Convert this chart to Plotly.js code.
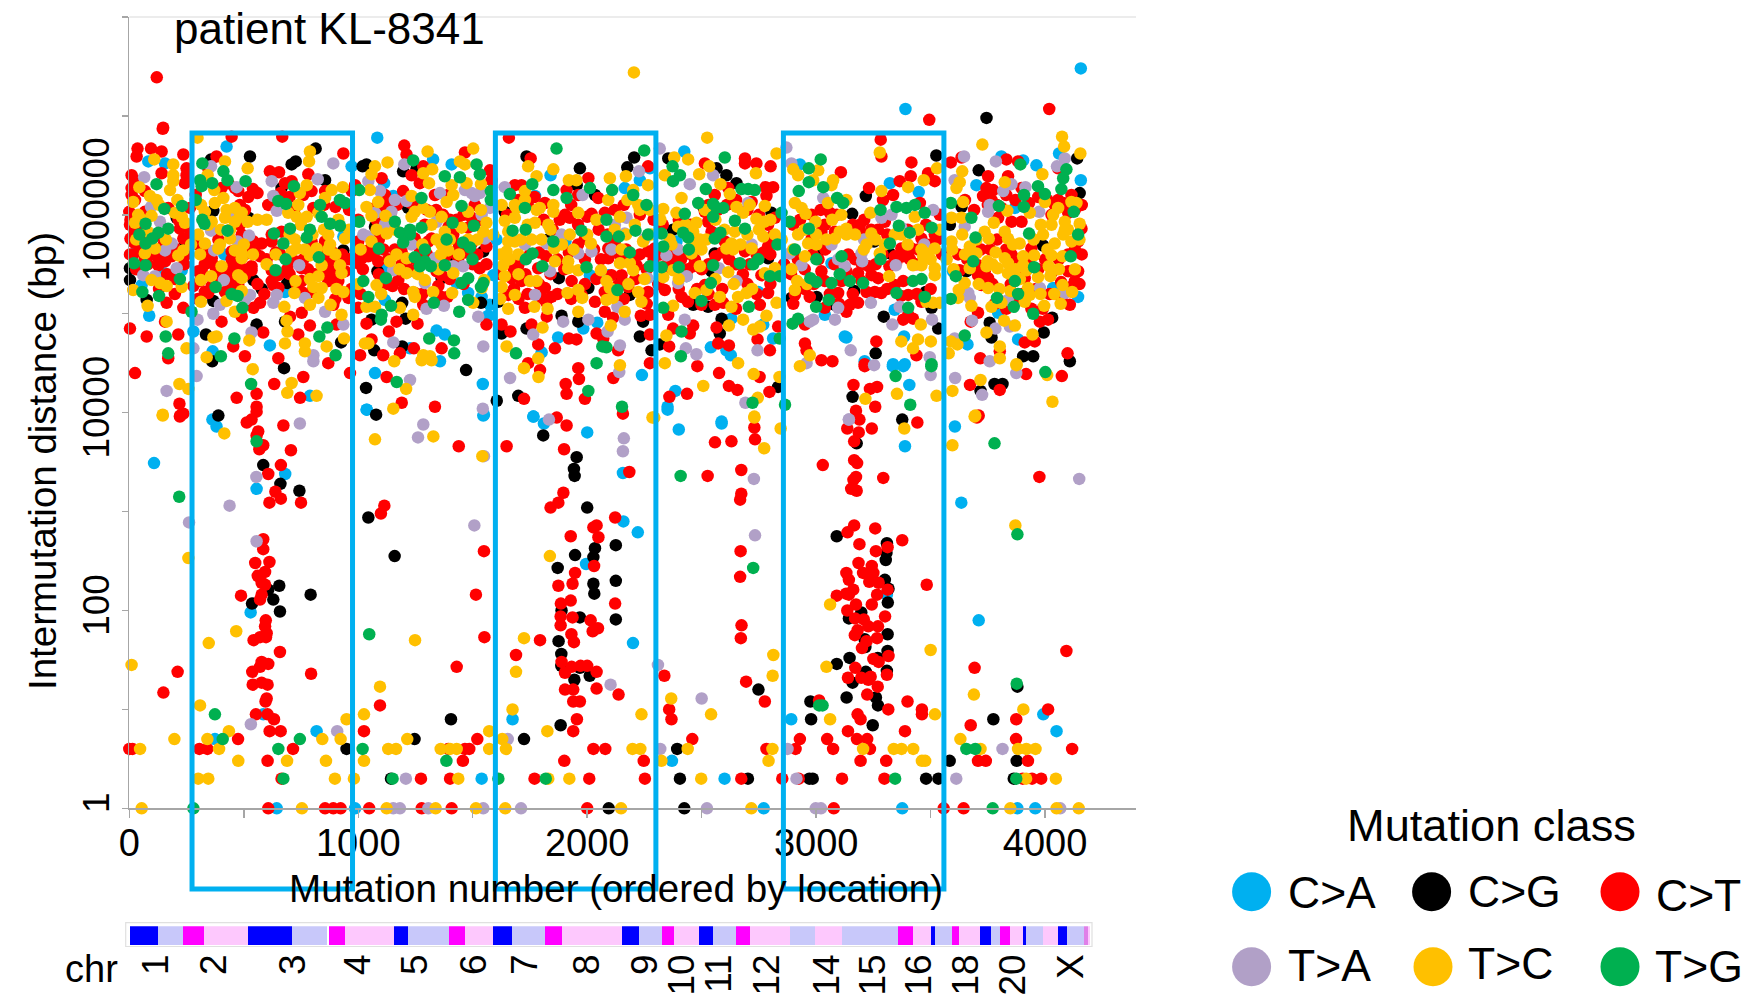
<!DOCTYPE html>
<html><head><meta charset="utf-8">
<script src="https://cdn.plot.ly/plotly-3.0.0.min.js"></script>
<style>html,body{margin:0;padding:0;background:#fff}#c{width:1750px;height:997px}</style></head>
<body><div id="c"></div>
<script>
// Each list: mutation number, log10(intermutation distance in bp), repeated.
const caPts=[425,6.69,83,6.54,156,6.52,153,5.41,54,5.29,87,4.98,36,5.66,415,5.60,614,4.68,680,5.22,364,4.62,280,4.82,745,5.51,971,6.49,935,5.78,229,5.44,724,5.24,
1083,6.78,1327,6.56,1408,6.51,1113,6.32,1153,6.19,1840,6.40,1772,6.19,1342,4.83,1378,4.79,1357,4.52,1226,4.65,1116,5.14,1429,5.31,1480,5.21,1539,5.17,1575,5.09,1568,4.98,1873,4.76,1905,5.73,1983,4.85,2044,4.91,1801,4.61,1590,5.39,1604,5.75,1116,5.46,2012,5.39,
2424,6.64,2230,6.35,2164,6.27,2274,6.47,2929,6.51,3125,4.77,2747,5.22,2769,4.89,2812,4.75,2540,4.66,2627,4.58,2608,4.63,3038,4.99,3067,5.51,2434,5.38,2390,5.73,2092,5.39,2630,4.95,
3962,6.50,3809,6.59,3904,6.55,4061,6.62,3448,6.23,3322,6.32,4156,6.35,3795,5.01,4035,5.26,3598,5.43,4144,5.17,3132,4.76,3384,4.77,3343,5.04,3212,4.52,3336,4.49,3387,4.49,3882,4.74,3661,4.69,3700,6.30,3868,6.07,
4156,7.48,3390,7.07,
1073,4.40,1544,4.29,1037,4.03,1546,3.97,789,4.17,1765,3.96,2351,4.06,2385,4.22,3407,4.28,2587,3.91,2239,4.38,3335,4.47,3381,4.47,
108,3.49,363,3.93,381,3.86,556,3.23,681,3.38,1037,4.03,1549,3.98,1765,3.96,1811,3.89,2000,3.80,1995,2.47,530,1.98,585,.95,818,.78,1674,.90,374,.70,1539,.30,644,0,986,0,
2156,3.39,2158,2.90,2221,2.79,2200,1.67,2370,.48,2400,3.83,2587,3.89,2351,4.03,3388,3.66,3606,3.86,3634,3.09,3710,1.90,2891,.90,3309,2.16,3992,.95,4050,.78,2600,.30,2771,0,3376,0,3879,0,3957,0];
const cgPts=[527,6.59,814,6.67,709,6.51,727,6.54,855,6.35,1019,6.49,357,6.56,665,6.27,10,5.75,3,5.46,3,5.34,578,5.25,542,5.34,690,5.31,335,4.79,680,4.92,925,4.71,898,5.43,935,5.64,520,5.97,367,6.04,243,5.73,556,4.89,367,5.13,76,5.14,362,4.52,207,5.97,
1036,6.51,1196,6.44,1735,6.59,1968,6.47,1954,6.30,2034,6.20,1830,5.75,1084,5.43,1247,5.43,1876,5.36,2005,5.26,1192,5.11,1058,4.94,1207,4.95,1192,4.67,1070,4.63,1536,5.11,1611,5.12,1735,4.85,1626,4.80,1888,4.98,1961,4.92,1546,5.63,1364,5.36,1422,5.58,1218,6.07,1073,5.88,1640,6.03,1255,6.47,
2205,6.58,2175,6.48,2354,6.57,2608,6.40,2565,6.47,2652,6.32,2230,4.77,2244,4.92,2281,4.63,2317,4.69,2587,4.95,2579,4.80,2463,5.09,2528,5.07,2805,6.02,2790,5.56,2375,5.85,2543,5.43,2557,5.61,3023,5.65,2507,6.08,3002,5.17,2892,5.16,3082,5.09,2186,5.19,2150,5.33,
3710,6.45,3217,6.19,3157,6.01,3525,6.60,4140,6.57,4151,6.22,3253,5.73,3322,5.61,3991,5.69,3166,5.23,3479,5.22,3295,4.97,3533,4.85,3758,4.91,4031,4.96,3994,4.81,3766,4.76,3904,4.57,3948,4.57,4108,4.52,3260,4.60,3635,6.08,3584,5.90,3656,5.43,3504,5.06,
3744,6.98,
389,3.97,1034,4.25,1078,3.98,1605,4.12,1699,4.17,676,4.45,1471,4.43,2834,4.26,3159,4.16,3779,4.29,3814,4.29,3718,4.22,
1808,3.77,585,3.47,660,3.28,743,3.21,1954,3.55,1942,3.43,1945,3.36,2000,3.04,1044,2.94,1159,2.55,655,2.25,607,2.21,792,2.16,629,2.11,536,2.07,658,1.99,1871,2.43,1947,2.56,2034,2.63,2027,2.54,2027,2.27,2031,2.17,1888,2.00,1968,1.93,1875,1.69,1887,1.56,1887,1.44,1968,1.42,2011,1.34,1944,1.30,1884,.84,1405,.90,1246,.70,1724,.70,949,.60,1143,.30,
2094,0,2424,0,2125,2.66,2125,2.30,2125,1.91,2748,1.20,2393,.60,2405,.30,2702,.30,2970,.30,2985,.30,2975,1.08,2978,.90,3090,2.75,3309,2.68,3307,2.58,3304,2.51,3300,2.31,3316,2.22,3313,2.08,3197,1.98,3143,1.92,3312,1.76,3212,1.71,3215,1.63,3312,1.59,3146,1.52,3090,1.46,3269,1.52,3217,1.38,3309,1.39,3159,1.27,3133,1.12,3261,1.12,3270,1.04,3247,.84,3376,3.93,3177,3.69,3480,.30,3534,.30,3879,1.23,3774,.90,3583,.48,3876,.48,3863,.30];
const ctPts=[148,6.88,36,6.67,32,6.59,95,6.67,141,6.64,236,6.61,447,6.79,668,6.79,935,6.62,381,6.59,614,6.44,654,6.43,10,6.40,25,6.35,141,6.42,250,6.47,250,6.40,345,6.47,10,6.27,68,6.24,243,6.32,432,6.32,680,6.32,855,6.24,782,6.41,607,6.10,483,6.10,25,6.15,3,5.90,25,5.83,68,6.03,5,5.76,578,5.71,622,5.73,542,5.73,571,5.58,447,5.55,418,5.46,461,5.43,534,5.48,622,5.44,651,5.39,629,5.29,338,5.61,316,5.43,330,5.22,491,4.97,542,5.06,571,5.11,403,4.92,585,4.81,738,4.79,789,4.88,702,4.97,753,5.01,3,4.85,76,4.77,214,4.79,163,5.11,199,5.20,236,5.06,454,4.67,651,4.55,505,4.57,869,4.50,1008,4.58,156,4.92,170,4.55,905,4.89,913,5.33,869,5.33,898,5.49,942,5.43,1000,5.51,
127,5.56,156,5.53,105,5.60,185,5.58,3,5.60,265,5.80,236,5.76,360,5.56,352,5.63,461,5.49,491,5.46,505,5.39,447,5.36,476,5.29,534,5.44,301,5.43,309,5.33,345,5.21,418,5.22,447,5.63,389,5.75,491,5.80,483,5.90,476,6.24,461,6.27,403,6.27,709,6.34,796,6.24,804,6.07,971,6.24,986,6.30,884,5.63,913,5.49,855,5.43,884,5.39,753,5.46,724,5.53,796,5.73,622,5.80,665,5.83,855,5.73,1000,5.73,1015,5.56,957,5.16,1000,5.06,891,5.09,753,5.33,622,5.33,651,5.26,753,5.22,796,5.22,10,6.20,0,6.03,170,6.07,39,5.97,221,5.86,265,6.07,127,5.49,68,5.56,17,5.60,
1201,6.70,1211,6.61,1466,6.63,1658,6.78,1753,6.57,1284,6.49,1233,6.40,1102,6.37,1269,6.32,1575,6.45,1910,6.25,2005,6.37,1196,6.24,1335,6.20,1393,6.20,1815,6.12,1924,5.97,2019,6.01,2077,6.02,1903,6.00,1116,6.20,1509,6.10,1684,6.30,1713,6.30,1073,6.07,1131,6.10,1480,5.87,1495,5.71,1291,5.90,1247,5.76,1320,5.76,1058,5.75,1044,5.58,1087,5.53,1073,5.63,1204,5.56,1284,5.63,1342,5.43,1364,5.39,1175,5.34,1531,5.46,1560,5.68,1437,5.56,1699,5.49,1670,5.36,1713,5.33,1655,5.19,1786,5.46,1844,5.17,1815,5.26,1801,5.16,1932,5.33,1990,5.76,2034,5.12,2077,5.22,2077,5.02,1975,5.19,1728,5.06,1823,4.97,1757,4.89,1786,4.69,1859,4.65,1920,4.75,1953,4.74,2041,4.80,2070,4.75,1665,4.82,1626,4.89,1560,4.89,1364,4.65,1243,4.65,1182,4.60,1109,4.58,1134,4.82,1167,4.92,1259,4.90,1036,4.90,1058,4.74,1364,5.17,1284,5.09,1247,5.21,1390,5.17,1742,4.50,1582,6.35,2048,6.17,1961,6.20,1393,5.87,1495,5.97,1415,5.80,1189,5.63,1306,5.73,
2689,6.57,2689,6.52,2739,6.52,2801,6.49,2514,6.52,2779,6.28,2812,6.28,3108,6.43,2266,6.49,2718,6.13,2616,6.27,2557,6.20,2783,6.19,2820,5.97,2790,5.90,2528,5.93,2543,5.83,2601,5.73,3038,5.90,3060,6.02,3082,5.83,3023,5.83,2980,5.76,2092,5.66,2092,5.56,2157,5.53,2215,5.49,2266,5.63,2295,5.66,2354,5.63,2106,5.39,2150,5.39,2266,5.22,2179,5.27,2339,5.24,2412,5.17,2368,5.46,2463,5.48,2514,5.29,2499,5.09,2557,5.09,2594,5.11,2790,5.21,2754,5.09,2761,5.39,2790,5.68,2805,5.78,2689,5.63,2113,4.96,2234,4.98,2274,4.99,2274,4.79,2354,4.99,2358,4.67,2375,4.85,2463,4.88,2448,4.80,2565,4.86,2572,4.70,2619,4.68,2744,4.74,2798,4.63,2834,4.87,2951,4.70,2958,4.63,2972,5.17,3038,5.06,2907,5.19,3096,5.21,3111,5.33,3023,5.43,3038,5.33,2951,4.89,3023,4.53,3071,4.52,2135,4.63,2274,4.50,2514,6.03,2135,5.29,2441,5.61,
3282,6.76,3285,6.59,3416,6.53,3588,6.53,3635,6.58,3831,6.56,3882,6.54,3231,6.27,3413,6.39,3489,6.42,3365,6.34,3518,6.34,3751,6.39,3838,6.39,4057,6.47,3744,6.27,3773,6.25,3729,6.19,3766,6.15,3292,6.15,3336,6.20,3453,6.12,3897,6.27,4115,6.20,4057,6.15,4042,6.10,4101,6.02,4028,6.00,3809,6.07,3191,5.90,3191,5.83,3300,5.93,3853,5.93,3897,5.93,3795,5.97,4144,5.73,4159,5.86,3940,5.66,3853,5.60,3372,5.66,3416,5.66,3460,5.76,3518,5.80,3343,5.58,3402,5.60,3445,5.65,3707,5.49,3736,5.43,3707,5.39,3751,5.36,3722,5.29,3132,5.43,3183,5.41,3242,5.39,3271,5.36,3285,5.21,3256,5.22,3402,5.19,3380,5.33,3343,5.29,3183,5.11,3132,5.02,3147,5.09,3380,4.94,3423,4.95,3402,4.99,3263,4.72,3707,5.01,3675,4.92,3911,4.71,3955,4.72,4013,4.94,3977,4.92,4108,5.09,4130,5.33,4101,5.43,4144,5.43,3809,5.12,3882,5.16,3911,5.36,4071,5.16,3897,5.56,3717,4.55,3802,4.62,4098,4.60,3438,4.58,3212,4.49,3460,5.12,3627,5.44,3198,5.33,
120,7.39,146,6.87,3494,6.96,4018,7.07,
25,4.40,219,4.09,469,4.15,633,4.29,760,4.36,746,4.15,556,4.19,556,4.06,222,3.97,1124,4.36,1190,4.10,1335,4.06,1724,4.14,1961,4.45,1964,4.34,1906,4.29,1910,4.19,1990,4.14,1794,4.43,964,4.40,
2114,4.35,2359,4.16,2436,4.19,2619,4.27,2656,4.23,2576,4.40,2481,4.47,2796,4.21,2753,4.36,3163,4.28,3235,4.24,3266,4.26,3258,4.06,3174,4.02,3672,4.28,3802,4.23,3917,4.39,4073,4.37,3212,4.47,3702,3.95,
221,3.96,236,3.99,513,3.90,534,3.93,556,4.01,673,3.87,563,3.81,556,3.77,585,3.67,568,3.63,706,3.62,662,3.47,607,3.38,638,3.20,662,3.13,612,3.09,750,3.09,1114,3.06,1099,2.98,1549,2.60,1514,2.16,488,2.15,585,2.72,585,2.62,612,2.49,550,2.48,593,2.39,561,2.35,578,2.28,593,2.26,578,2.16,571,2.11,596,1.90,593,1.84,600,1.77,571,1.73,597,1.73,543,1.70,658,1.58,607,1.46,578,1.48,571,1.43,537,1.38,211,1.38,794,1.36,539,1.25,578,1.27,604,1.25,600,1.11,595,1.08,149,1.17,553,.95,604,.95,632,.90,613,.78,661,.78,1095,1.04,1430,1.43,1551,1.73,1025,.78,1520,.70,1439,3.66,1648,3.66,1867,3.95,1910,3.87,1899,3.63,1896,3.19,1874,3.09,1840,3.04,1928,2.75,2027,2.84,2041,2.86,2049,2.74,1947,2.38,2030,2.45,1874,2.25,1936,2.27,1885,2.07,1928,2.10,1884,1.94,1884,1.85,1936,1.93,2015,1.90,1931,1.76,2024,1.79,1942,1.68,2047,1.82,1794,1.70,1689,1.55,1888,1.48,1932,1.43,1971,1.44,2000,1.44,1903,1.37,2041,1.38,1903,1.20,1939,1.20,1939,1.08,1968,1.08,1955,.90,1939,.78,2041,1.21,
0,.60,14,.60,306,.60,341,.60,715,.60,1393,.60,1466,.60,1485,.60,2027,.60,475,.70,604,.48,1457,.48,1900,.48,665,.30,1274,.30,1401,.30,1770,.30,2009,.30,607,0,855,0,891,0,923,0,1048,0,1277,0,1408,0,2000,0,
2156,3.99,2730,3.85,2733,3.73,2558,3.70,2630,3.71,2184,3.40,2526,3.36,2673,3.42,2673,3.18,2668,3.12,2122,2.94,2670,2.60,2668,2.34,2122,2.07,2674,1.85,2671,1.72,2337,1.34,2694,1.28,2137,1.15,2358,1.00,2368,.90,2776,1.08,2459,.70,2079,.60,2783,.60,2247,.48,2252,.30,2673,.30,2852,.30,2924,.30,3113,.30,3298,.30,3077,0,3557,0,3644,0,
3189,3.93,3136,3.84,3186,3.80,3243,3.84,3166,3.71,3179,3.49,3166,3.52,3029,3.47,3163,3.32,3174,3.35,3293,3.34,3153,3.23,3177,3.21,3166,2.86,3137,2.79,3258,2.83,3189,2.67,3376,2.71,3312,2.64,3261,2.60,3185,2.48,3243,2.45,3205,2.38,3132,2.38,3250,2.38,3143,2.31,3232,2.29,3273,2.28,3162,2.21,3131,2.17,3090,2.15,3143,2.16,3266,2.16,3312,2.21,3243,2.06,3174,2.06,3136,2.00,3170,1.92,3208,1.91,3228,1.84,3270,1.84,3301,1.94,3181,1.80,3169,1.75,3220,1.69,3266,1.72,3200,1.62,3316,1.54,3250,1.51,3273,1.48,3171,1.42,3139,1.32,3197,1.32,3228,1.30,3238,1.33,3309,1.35,3269,1.23,3223,1.15,3399,1.08,3315,1.00,3013,1.09,3181,.95,3194,.90,3462,1.00,3462,.95,3139,.78,3388,.78,3178,.70,3223,.70,3048,.70,2929,.70,2910,.60,3074,.60,3235,.60,3194,.48,3306,.48,3483,2.26,
3975,3.35,4093,1.59,3692,1.42,3675,.84,3874,.90,4013,1.00,3873,.70,4118,.60,3925,.48,3707,.48,3741,.48,3902,.30,3943,.30,3983,.30,3710,3.97,3442,3.90];
// Red and orange marks read from the densest part of the cloud, partly seen under the other classes
const ctCore=[60,5.95,20,5.72,45,5.68,75,5.63,120,5.62,150,5.70,200,5.66,215,5.95,250,5.88,290,6.20,300,5.70,330,5.50,375,5.48,400,5.40,430,5.42,470,5.50,505,5.60,520,5.68,550,5.62,600,5.55,640,5.62,660,5.60,690,5.45,700,5.40,730,5.30,760,5.55,780,5.45,810,5.40,830,5.62,850,5.55,880,5.50,905,5.30,930,5.60,960,5.55,990,5.62,1020,5.45,505,6.05,520,6.18,540,6.26,560,6.22,660,6.22,700,6.18,720,6.05,760,6.20,850,6.10,900,6.08,960,6.05,1000,5.95,560,5.30,590,5.20,440,5.30,380,5.35,360,5.28,280,5.28,250,5.60,165,5.40,200,5.35,240,5.50,110,5.78,60,5.80,35,5.90,5,5.95,80,5.50,30,5.45,130,5.25,300,5.15,900,5.15,970,5.25,1010,5.20,
1050,5.65,1090,5.75,1110,5.65,1130,5.55,1160,5.65,1190,5.50,1220,5.45,1250,5.55,1270,5.65,1300,5.60,1330,5.55,1360,5.48,1380,5.58,1410,5.62,1440,5.70,1470,5.62,1500,5.50,1520,5.60,1560,5.50,1080,5.95,1110,6.05,1140,6.00,1170,6.10,1230,6.12,1260,6.10,1300,6.05,1340,6.05,1370,6.00,1400,5.95,1430,5.95,1460,6.00,1530,5.95,1090,5.40,1120,5.30,1150,5.28,1200,5.25,1280,5.20,1350,5.28,1400,5.35,1460,5.30,1620,5.40,1650,5.55,1680,5.45,1710,5.55,1730,5.40,1750,5.60,1790,5.62,1820,5.58,1840,5.40,1870,5.55,1900,5.45,1920,5.62,1960,5.70,1990,5.55,2030,5.65,2060,5.55,1680,5.25,1700,5.15,1740,5.20,1790,5.30,1820,5.12,1870,5.20,1930,5.15,1990,5.30,2040,5.35,1650,6.00,1700,6.15,1740,6.10,1770,6.18,1810,5.95,1850,5.85,1880,5.95,1930,6.10,1960,5.90,2000,5.98,2050,5.85,
2090,5.80,2120,5.72,2140,5.60,2170,5.65,2200,5.55,2230,5.60,2260,5.45,2290,5.55,2320,5.60,2350,5.50,2380,5.55,2410,5.55,2440,5.45,2470,5.55,2500,5.45,2530,5.50,2560,5.58,2590,5.62,2620,5.55,2650,5.50,2680,5.40,2710,5.50,2740,5.60,2770,5.62,2800,5.60,2120,6.05,2160,6.10,2230,6.00,2290,5.95,2330,5.90,2400,5.95,2450,5.90,2530,6.10,2570,6.05,2610,6.10,2650,6.15,2700,6.05,2750,6.00,2100,5.20,2160,5.15,2210,5.35,2260,5.10,2310,5.30,2400,5.25,2440,5.12,2480,5.25,2530,5.20,2590,5.25,2650,5.05,2700,5.30,2740,5.20,2800,5.30,2860,5.50,2890,5.40,2920,5.55,2950,5.45,2985,5.60,3010,5.55,3040,5.65,3080,5.50,3110,5.45,2900,5.90,2930,5.95,2980,6.00,3020,6.05,3090,6.00,2900,5.10,2950,5.25,2990,5.30,3060,5.20,3100,5.10,
3140,5.60,3170,5.55,3200,5.50,3230,5.48,3260,5.50,3290,5.60,3320,5.48,3350,5.52,3380,5.58,3410,5.55,3440,5.50,3470,5.65,3500,5.70,3530,5.75,3550,5.60,3160,5.90,3210,5.95,3240,5.85,3270,5.85,3310,5.80,3400,5.85,3480,5.90,3540,6.00,3160,5.20,3220,5.22,3310,5.25,3370,5.18,3440,5.20,3500,5.25,3620,5.60,3660,5.55,3690,5.60,3720,5.65,3760,5.65,3790,5.75,3830,5.65,3870,5.55,3900,5.40,3930,5.55,3970,5.45,4000,5.55,4030,5.42,4060,5.55,4100,5.60,4130,5.65,4160,5.60,3650,6.15,3690,6.05,3750,6.10,3790,6.10,3830,6.20,3870,6.15,3930,6.12,3970,6.18,4010,6.15,4080,6.12,4130,6.05,4160,6.10,3730,5.35,3770,5.30,3850,5.30,3900,5.20,3960,5.25,4020,5.20,4070,5.32,4120,5.28,4150,5.30,3780,5.10,3830,5.05,3940,5.05,3990,5.05];
const tcCore=[30,5.75,55,5.95,130,6.10,160,5.75,210,6.15,270,5.70,345,5.90,400,5.85,440,5.85,500,5.70,540,5.60,600,5.50,640,5.60,700,5.80,750,5.90,800,5.80,850,5.85,900,5.60,960,5.85,1010,5.65,1000,5.30,560,5.95,600,5.95,
1080,5.85,1160,5.85,1200,5.80,1280,5.70,1320,5.90,1400,5.75,1440,5.60,1480,5.75,1520,5.75,1590,5.80,1620,5.60,1660,5.55,1710,5.75,1740,5.90,1800,5.75,1840,5.85,1890,5.70,1940,5.65,2000,5.80,2040,5.95,1100,5.20,1180,5.45,1260,5.40,1350,5.45,1620,5.15,1700,5.40,
2120,5.85,2170,5.80,2280,5.80,2320,5.95,2430,5.90,2460,5.70,2520,5.75,2560,5.95,2600,5.85,2670,5.70,2700,5.80,2750,5.85,2800,5.95,2850,5.75,2900,5.65,2950,5.85,3000,5.80,3070,5.95,3110,6.00,2180,5.30,2250,5.35,2400,5.35,2560,5.35,2640,5.30,2720,5.25,2960,5.30,
3170,5.80,3220,5.70,3260,5.75,3300,5.70,3400,5.70,3460,5.65,3500,5.55,3540,5.85,3570,5.55,3600,5.45,3650,5.60,3700,5.75,3770,5.50,3860,5.70,3870,5.45,3950,5.75,4010,5.65,4060,5.45,4100,5.85,4150,5.75,3710,5.30,3800,5.25,3890,5.35,3980,5.20,4040,5.20,4130,5.45];
const taPts=[891,6.52,357,6.49,65,6.38,622,6.34,823,6.36,469,6.28,644,6.04,629,6.19,95,6.08,134,5.93,444,6.00,357,5.84,523,5.79,473,5.73,185,5.71,156,5.64,371,5.64,207,5.46,112,5.38,61,5.39,413,5.34,742,5.49,527,5.19,505,5.14,396,5.09,367,5.00,644,5.19,629,5.11,767,5.16,855,5.02,935,4.89,534,4.81,298,4.94,804,4.58,804,4.52,280,4.65,1022,5.80,
1201,6.51,1044,6.34,1466,6.25,1495,6.22,1531,6.22,1509,6.19,1357,6.22,1095,6.24,1160,6.15,1211,6.14,1145,6.03,1073,6.02,1116,5.90,1539,6.00,1575,6.07,1342,5.93,1044,5.78,1233,5.70,1335,5.56,1553,5.76,1153,5.44,1458,5.48,1415,5.48,1291,5.31,1772,5.19,1728,5.70,1888,5.80,1895,4.92,1980,6.20,2019,5.63,1961,5.61,1837,5.43,2005,4.94,1764,4.79,1298,5.05,1374,5.08,1524,4.97,1546,4.67,1153,4.71,1823,5.71,1640,6.28,
2317,6.67,2226,6.44,2870,6.68,2892,6.52,2448,6.31,2550,6.40,2346,5.59,2652,5.33,2575,5.46,2434,5.38,2397,5.31,2703,6.12,2172,5.97,2164,5.81,2121,5.90,2106,5.65,2263,5.36,2252,5.76,2397,5.65,2426,4.94,2164,4.94,2132,5.07,2972,4.92,2987,4.94,3082,4.94,3096,5.06,2143,4.68,2431,4.65,2477,4.59,2744,4.63,3031,6.17,3067,5.70,2885,5.61,2936,5.49,2718,5.70,2089,4.82,2958,4.50,3096,5.55,
3646,6.59,3785,6.54,4086,6.57,4052,6.49,3605,6.35,3914,6.28,3853,6.31,3817,6.24,3511,6.05,3285,5.97,3329,6.00,3758,6.10,3751,6.03,3974,6.03,3649,5.88,3372,5.87,3209,5.75,3472,5.70,3198,5.61,3201,5.53,3348,5.49,3125,5.48,3664,5.21,3671,5.16,3977,5.26,3838,5.14,3239,5.11,3365,5.07,3333,4.89,3506,4.94,3681,4.93,3783,4.85,3846,4.87,3151,4.63,3496,4.56,3605,4.75,3758,4.52,3253,4.48,4086,5.21,
163,4.22,1226,4.33,1544,4.04,1663,4.35,294,4.37,3500,4.38,3607,4.35,3725,4.18,3874,4.40,2691,4.10,2140,4.41,3143,3.93,
745,3.89,1284,3.88,1261,3.75,1549,3.56,555,3.35,438,3.06,261,2.89,556,2.70,1507,2.86,1833,3.93,531,.85,908,.78,1653,.70,1208,.30,1153,0,1182,0,1306,0,1546,0,1711,0,
2160,3.74,2156,3.61,2728,3.33,2733,2.76,3143,3.93,4149,3.33,2102,1.25,2500,1.11,2309,1.45,2319,.60,2875,.60,3814,.60,2914,.30,3612,.30,2523,0,2998,0,3021,0,4066,0];
const tcPts=[109,6.56,192,6.51,418,6.54,517,6.47,789,6.64,785,6.54,298,6.78,342,6.40,192,6.40,192,6.34,44,6.28,178,6.25,371,6.25,775,6.30,745,6.22,932,6.28,884,6.25,855,6.17,738,6.10,17,6.13,90,6.19,119,6.15,411,6.17,313,6.10,374,6.12,425,6.05,461,6.07,491,6.02,39,6.00,97,5.99,199,6.02,229,5.98,243,5.92,25,5.92,80,5.83,330,6.03,360,5.93,418,5.97,461,5.93,517,5.93,483,5.98,694,6.02,731,5.98,775,5.98,826,6.02,913,5.95,869,5.80,877,5.70,942,5.76,724,5.75,731,5.66,767,5.65,818,5.66,869,5.65,709,5.63,301,5.80,330,5.71,440,5.76,396,5.70,389,5.66,461,5.64,491,5.61,491,5.56,309,5.60,68,5.61,112,5.66,236,5.64,214,5.59,789,5.59,840,5.49,920,5.49,927,5.41,403,5.48,357,5.38,313,5.34,476,5.39,491,5.36,726,5.33,789,5.35,826,5.38,804,5.27,840,5.26,905,5.25,935,5.22,97,5.34,134,5.31,163,5.28,229,5.27,17,5.24,721,5.21,826,5.16,789,5.09,879,5.09,927,4.99,80,5.08,313,5.12,425,5.13,491,5.23,461,5.02,677,5.07,687,4.93,691,4.82,163,4.92,381,4.77,367,4.76,524,4.73,680,4.70,767,4.70,862,4.67,938,4.75,767,4.62,338,4.56,250,4.65,1029,4.70,
1128,6.53,1073,6.49,1058,6.41,1303,6.64,1502,6.67,1444,6.54,1466,6.51,1284,6.42,1323,6.46,1309,6.32,1473,6.32,1536,6.31,1408,6.30,1051,6.25,1233,6.19,1415,6.20,1087,6.13,1386,6.13,1284,6.07,1313,6.03,1364,5.98,1480,6.03,1536,6.05,1233,5.98,1036,6.08,1058,5.99,1119,5.99,1451,5.87,1378,5.83,1342,5.75,1560,5.92,1546,5.83,1124,5.81,1058,5.73,1742,6.49,1852,6.46,1779,6.39,1920,6.35,1953,6.35,1626,6.10,1728,6.24,1728,6.15,1684,6.10,1691,6.07,1779,6.05,1852,6.10,1852,6.03,1793,6.07,1961,6.02,1640,5.94,1684,5.97,1772,5.92,1830,5.90,1655,5.83,1655,5.73,1757,5.75,1684,5.73,1924,5.80,2016,5.71,1648,5.63,1699,5.60,1856,5.66,1633,5.49,1859,5.53,1917,5.53,1917,5.46,1961,5.44,2060,5.44,1640,5.38,1626,5.27,1750,5.33,1779,5.33,1684,5.19,1769,5.07,1655,5.05,1827,5.05,1914,5.21,1961,5.24,1978,5.16,1961,5.02,1805,4.86,1648,4.67,1786,4.55,1138,5.53,1167,5.60,1211,5.56,1361,5.60,1393,5.64,1415,5.41,1291,5.34,1211,5.41,1080,5.29,1327,5.22,1410,5.21,1240,5.22,1247,5.17,1036,5.07,1073,5.07,1182,5.06,1240,4.99,1502,5.11,1364,5.70,1247,6.03,1044,4.70,1277,4.53,1320,4.53,1284,4.58,1313,4.57,1157,4.52,1550,5.34,1539,5.26,
2524,6.78,2827,6.62,2380,6.58,2441,6.56,2533,6.49,2339,6.40,2489,6.41,2737,6.42,2169,6.39,2099,6.37,2582,6.31,2266,6.30,2201,6.25,2623,6.21,2412,6.17,2092,6.15,2176,6.15,2223,6.10,2332,6.06,2390,6.02,2776,6.09,2652,6.08,2710,6.10,2143,5.98,2230,6.05,2274,6.05,2514,6.05,2681,6.02,2739,5.96,2773,5.93,2397,5.88,2477,5.92,2463,5.83,2492,5.75,2499,5.65,2456,5.61,2645,5.83,2630,5.71,2637,5.65,2608,5.66,2718,5.66,2769,5.78,2820,5.80,2208,5.90,2244,5.73,2361,5.75,2368,5.70,2150,5.65,2143,5.51,2186,5.51,2201,5.44,2084,5.33,2099,5.26,2084,5.14,2113,5.16,2223,5.22,2237,5.12,2164,5.02,2103,4.88,2375,5.08,2332,5.37,2375,5.44,2492,5.48,2616,5.42,2521,5.24,2579,5.17,2470,5.21,2696,5.21,2659,5.17,2630,5.07,2776,5.41,2820,5.46,2827,5.11,2783,4.98,2681,4.94,2754,4.87,2725,4.84,2619,4.88,2346,4.78,2143,4.48,2659,4.50,2339,4.50,2900,6.46,2921,6.40,3009,6.45,2987,6.35,3074,6.35,3067,6.30,2907,6.12,2936,6.07,2954,6.01,2997,5.93,2921,5.80,2965,5.71,3001,5.70,3045,5.75,3082,5.76,3103,5.83,2951,5.58,2892,5.45,2917,5.33,2907,5.24,2972,4.58,3052,6.12,
3726,6.71,4074,6.79,4083,6.69,4154,6.62,3278,6.63,3638,6.44,3988,6.41,3627,6.33,3613,6.27,3824,6.33,3470,6.35,3528,6.47,3402,6.28,3285,6.24,3642,6.13,3999,6.13,4115,6.13,4137,6.12,4057,6.07,4035,6.00,3835,6.04,3933,6.02,3591,5.97,3635,5.97,3237,6.02,3431,5.98,3776,5.92,3824,5.83,3838,5.76,3981,5.90,4028,5.90,3991,5.80,4086,5.93,4086,5.85,4079,5.80,4151,5.91,3736,5.83,3754,5.76,3638,5.80,3241,5.81,3343,5.80,3372,5.80,3445,5.85,3591,5.73,3594,5.65,3671,5.68,3700,5.61,3784,5.62,3889,5.71,3904,5.58,3952,5.59,4042,5.71,4028,5.59,4115,5.73,4076,5.58,3208,5.65,3278,5.61,3132,5.80,3132,5.86,3518,5.66,3482,5.61,3467,5.58,3423,5.49,3460,5.49,3518,5.46,3518,5.39,3319,5.38,3671,5.46,3748,5.53,3744,5.48,3792,5.46,3824,5.56,3838,5.51,3838,5.41,3904,5.49,3919,5.44,4016,5.48,4023,5.38,3969,5.37,3926,5.26,3933,5.19,3911,5.12,3751,5.26,3849,5.23,3623,5.24,3620,5.16,3649,5.31,3678,5.08,3766,5.07,3809,5.11,3996,5.08,4068,5.10,4076,5.29,4118,5.22,3482,5.12,3511,5.11,3540,5.11,3457,4.89,3821,4.93,3868,4.88,3744,4.81,3945,4.79,3445,4.74,3501,4.72,3588,4.72,3617,4.69,3372,4.72,3423,4.65,3802,4.67,3802,4.55,3579,4.60,3875,4.49,3132,6.15,
2204,7.44,
219,4.29,146,3.97,258,4.24,709,4.30,690,4.20,818,4.17,1153,4.04,1209,4.24,1787,4.36,1724,4.45,539,4.44,2507,4.27,2745,4.15,2727,4.39,3353,4.19,3215,4.14,3595,4.22,3718,4.33,4032,4.11,4009,4.38,3875,4.48,2929,4.47,2840,4.36,3526,4.17,3695,3.97,2730,3.96,2285,3.95,
146,3.98,415,3.79,1073,3.73,1328,3.76,1542,3.56,258,2.53,1837,2.55,10,1.45,347,1.67,467,1.79,1248,1.70,1724,1.72,1689,1.38,1095,1.23,309,1.04,1025,.95,1674,1.00,949,.90,435,.78,1572,.78,1826,.78,197,.70,341,.70,843,.70,923,.70,1214,.70,1629,.70,47,.60,392,.60,1131,.60,1165,.60,1360,.60,1401,.60,1430,.60,1572,.60,1645,.60,476,.48,689,.48,859,.48,1025,.48,301,.30,345,.30,898,.30,981,.30,1437,.30,1830,.30,1922,.30,54,0,754,0,1124,0,1338,0,1514,0,1642,0,
2293,3.95,2730,3.95,2845,3.84,2773,3.64,3385,3.84,3595,3.67,3692,3.96,3870,2.86,3061,2.06,3500,1.60,2813,1.55,2810,1.34,3045,1.43,2367,1.11,2237,.95,2541,.95,3061,.90,3519,.95,3689,1.15,3905,1.00,3630,.70,2439,.60,2198,.60,2232,.60,2809,.60,3205,.60,3339,.60,3373,.60,3424,.60,3718,.60,3882,.60,3918,.60,3958,.60,2324,.48,2792,.48,3462,.48,3476,.48,2498,.30,3917,.30,4047,.30,2148,0,2717,0,3848,0,4050,0,4147,0];
const tgPts=[319,6.52,411,6.44,429,6.35,508,6.34,119,6.31,309,6.35,316,6.29,362,6.32,719,6.29,651,6.14,684,6.11,920,6.15,942,6.12,1004,6.25,231,6.09,153,6.06,290,6.15,833,6.10,840,5.98,71,5.91,319,5.95,328,5.91,170,5.86,127,5.82,44,5.80,100,5.76,71,5.71,429,5.84,702,5.86,632,5.81,789,5.85,775,5.77,673,5.71,683,5.55,828,5.57,877,5.91,920,5.89,1004,5.93,20,5.51,71,5.49,221,5.35,639,5.44,377,5.27,57,5.22,130,5.18,447,5.20,473,5.18,494,5.06,272,5.02,865,4.86,830,4.77,459,4.75,159,4.77,170,4.60,400,4.57,901,4.58,1022,5.33,
1866,6.67,1240,6.55,1378,6.39,1444,6.38,1517,6.51,1531,6.41,1760,6.31,1852,6.25,1910,6.17,2012,6.27,1662,6.21,1579,6.24,1579,6.15,1276,6.17,1451,6.09,1728,6.07,1160,5.93,1276,5.87,1412,5.92,1505,5.89,1182,5.82,1226,5.85,1226,5.80,1196,5.72,1386,5.75,1674,5.84,1731,5.85,1975,5.84,1852,5.73,1090,5.66,1291,5.65,1458,5.72,1488,5.67,1761,5.61,1732,5.55,1247,5.57,1291,5.53,1269,5.48,1317,5.48,1378,5.49,1499,5.55,1804,5.48,1997,5.47,1121,5.36,1480,5.36,1451,5.31,1546,5.31,1536,5.27,1044,5.17,1143,5.08,1102,4.99,1099,4.94,1330,5.11,1480,5.14,1441,5.02,1310,4.75,1418,4.73,1419,4.60,1689,4.60,2066,4.67,2041,4.50,
2249,6.65,2601,6.58,3020,6.56,2373,6.49,2405,6.40,2375,6.34,2109,6.25,2518,6.26,2968,6.47,2968,6.33,3031,6.28,2924,6.24,2201,6.20,2674,6.26,2703,6.26,2732,6.25,2259,6.10,2485,6.12,2550,6.11,2594,6.07,2565,6.07,2426,6.01,2550,5.98,2645,5.94,2885,5.93,2849,6.02,3092,6.17,3118,6.12,2689,5.86,2968,5.86,2325,5.81,2419,5.82,2582,5.82,2557,5.76,2441,5.77,2138,5.78,2211,5.84,2266,5.80,2084,5.95,2084,5.78,2332,5.68,2444,5.65,2831,5.70,2186,5.62,2907,5.65,2667,5.51,2725,5.50,2747,5.55,3001,5.55,2550,5.49,2400,5.47,2274,5.48,2325,5.47,2798,5.38,2841,5.38,3103,5.40,2975,5.36,3001,5.32,3067,5.31,2540,5.31,2132,5.24,2499,5.13,2706,5.07,3055,5.14,3000,5.07,2332,5.06,2921,4.95,2897,4.90,2412,4.82,2841,4.75,2409,4.57,2084,4.66,3111,5.58,
3892,6.51,4093,6.46,4079,6.37,4071,6.26,3969,6.29,3908,6.20,3999,6.21,3351,6.08,3394,6.07,3431,6.10,3281,6.05,3474,6.02,3588,6.12,3798,6.09,3907,6.08,4125,6.03,3678,5.97,3361,5.89,3409,5.82,3504,5.87,3930,5.81,4144,5.80,3696,5.77,3322,5.71,3281,5.55,4112,5.58,3686,5.53,3952,5.47,3610,5.38,3868,5.33,3460,5.35,3423,5.33,3147,5.33,3205,5.31,3351,5.21,3882,5.20,3790,5.16,3474,5.17,3588,5.15,3402,5.06,3863,5.07,3948,5.00,3649,4.78,3504,4.49,
532,4.29,1168,4.31,2005,4.22,3347,4.37,3411,4.08,2152,4.06,2722,4.10,3503,4.47,4001,4.41,2864,4.08,
556,3.71,218,3.15,1048,1.76,374,.95,408,.70,745,.70,651,.60,1019,.60,1385,.48,673,.30,1150,.30,1612,.30,1819,.30,280,0,
2408,3.36,2725,2.43,3779,3.69,3879,2.77,3876,1.26,3013,1.04,3028,1.04,3656,.60,3695,.60,3345,.30,3874,.30,3771,0];

const classNames=['C>A','C>G','C>T','T>A','T>C','T>G'];
const classColors=['#00b0f0','#000000','#ff0000','#b1a0c7','#ffc000','#00b050'];
const classPts=[caPts,cgPts,ctCore.concat(ctPts),taPts,tcCore.concat(tcPts),tgPts];

// Chromosome-arm blocks along the mutation-number axis
const armStart=[2,124,235,326,517,710,871,942,1156,1217,1397,1467,1590,1671,1815,1888,2153,2227,2326,2377,2489,2549,2651,2711,2885,2995,3115,3358,3421,3500,3520,3592,3622,3714,3763,3802,3845,3902,3916,3989,4056,4096,4169,4186];
const armEnd=[124,235,326,517,710,862,942,1156,1217,1397,1467,1590,1671,1815,1888,2153,2227,2326,2377,2489,2549,2651,2711,2885,2995,3115,3358,3421,3500,3520,3592,3622,3714,3763,3802,3845,3902,3916,3989,4056,4096,4169,4186,4198];
const armColor=['#0000ff','#c8c8fa','#ff00ff','#fdc8fd','#0000ff','#c8c8fa','#ff00ff','#fdc8fd','#0000ff','#c8c8fa','#ff00ff','#fdc8fd','#0000ff','#c8c8fa','#ff00ff','#fdc8fd','#0000ff','#c8c8fa','#ff00ff','#fdc8fd','#0000ff','#c8c8fa','#ff00ff','#fdc8fd','#c8c8fa','#fdc8fd','#c8c8fa','#ff00ff','#fdc8fd','#0000ff','#c8c8fa','#ff00ff','#fdc8fd','#0000ff','#c8c8fa','#ff00ff','#fdc8fd','#0000ff','#c8c8fa','#fdc8fd','#0000ff','#c8c8fa','#e080e8','#fdc8fd'];
const chrLabels=['1','2','3','4','5','6','7','8','9','10','11','12','14','15','16','18','20','X'];
const chrPos=[117,370,715,999,1248,1505,1728,2000,2252,2414,2575,2785,3049,3250,3449,3654,3861,4112];

const boxStart=[274,1599,2857], boxEnd=[975,2300,3558];
const xTicks=[0,500,1000,1500,2000,2500,3000,3500,4000];
const xLabels=['0','','1000','','2000','','3000','','4000'];
const yTicks=[1,10,100,1000,10000,100000,1000000,10000000,100000000];
const yLabels=['1','','100','','10000','','1000000','',''];

const W=1750,H=997,FONT='"Liberation Sans",Arial,sans-serif';
const fx=p=>p/W, fy=p=>1-p/H;
const traces=classPts.map((pts,i)=>{
  const x=[],y=[];
  for(let k=0;k<pts.length;k+=2){x.push(pts[k]);y.push(Math.pow(10,pts[k+1]));}
  return {type:'scatter',mode:'markers',name:classNames[i],x,y,cliponaxis:false,
    marker:{size:12.5,color:classColors[i],line:{width:0}},hoverinfo:'x+y+name'};
});
traces.push({type:'bar',xaxis:'x2',yaxis:'y2',x:armStart.map((s,i)=>(s+armEnd[i])/2),
  width:armStart.map((s,i)=>armEnd[i]-s),y:armStart.map(()=>1),
  marker:{color:armColor,line:{width:0}},showlegend:false,hoverinfo:'skip'});

const shapes=[
 {type:'line',xref:'paper',yref:'paper',x0:fx(129.3),x1:fx(1136),y0:fy(17),y1:fy(17),line:{color:'#d9d9d9',width:1.2}},
 {type:'rect',xref:'paper',yref:'paper',x0:fx(125.7),x1:fx(1092),y0:fy(922.7),y1:fy(946.5),line:{color:'#e0e0e0',width:1.2},layer:'below'}
];
boxStart.forEach((s,i)=>shapes.push({type:'rect',xref:'x',yref:'paper',x0:s,x1:boxEnd[i],y0:fy(133),y1:fy(889),line:{color:'#00b0f0',width:5}}));
const legX=[1251.6,1431.6,1620,1251.6,1433,1620],legY=[891.7,891.7,891.7,966.7,966.7,966.7];
classNames.forEach((n,i)=>shapes.push({type:'circle',xref:'paper',yref:'paper',x0:fx(legX[i]-19.5),x1:fx(legX[i]+19.5),y0:fy(legY[i]-19.5),y1:fy(legY[i]+19.5),fillcolor:classColors[i],line:{width:0}}));

const txt=(s,x,y,size,o={})=>Object.assign({text:s,xref:'paper',yref:'paper',x:fx(x),y:fy(y),showarrow:false,
  font:{family:FONT,size,color:'#000'},xanchor:'center',yanchor:'middle'},o);
const legTextX=[1285.5,1465.5,1654,1285.5,1466,1653],legTextY=[892.7,891.7,895.7,965,963,966.7];
const annotations=[
 txt('patient KL-8341',172,29,44,{xanchor:'left'}),
 txt('Intermutation distance (bp)',42,461,38.5,{textangle:-90}),
 txt('Mutation number (ordered by location)',615.5,888,38.6),
 txt('chr',91,969,38),
 txt('Mutation class',1491,825,45.2)
];
classNames.forEach((n,i)=>annotations.push(txt(n.replace('>','&gt;'),legTextX[i],legTextY[i],44.5,{xanchor:'left'})));

const layout={width:W,height:H,margin:{l:0,r:0,t:0,b:0},paper_bgcolor:'#fff',plot_bgcolor:'#fff',showlegend:false,bargap:0,
 font:{family:FONT,color:'#000'},
 xaxis:{domain:[fx(129.3),fx(1136)],range:[0,4397],anchor:'y',showgrid:false,zeroline:false,showline:true,linecolor:'#a6a6a6',linewidth:1.5,
   ticks:'outside',ticklen:8,tickwidth:1.5,tickcolor:'#a6a6a6',tickmode:'array',tickvals:xTicks,ticktext:xLabels,tickangle:0,tickfont:{size:38,family:FONT,color:'#000'},ticklabelstandoff:-7},
 yaxis:{domain:[fy(808.3),fy(17)],type:'log',range:[0,8],anchor:'x',showgrid:false,zeroline:false,showline:true,linecolor:'#a6a6a6',linewidth:1.5,
   ticks:'outside',ticklen:6,tickwidth:1.5,tickcolor:'#a6a6a6',tickmode:'array',tickvals:yTicks,ticktext:yLabels,tickangle:-90,tickfont:{size:37,family:FONT,color:'#000'},ticklabelstandoff:-2},
 xaxis2:{domain:[fx(129.3),fx(1136)],range:[0,4397],anchor:'y2',showgrid:false,zeroline:false,showline:false,ticks:'',tickmode:'array',tickvals:chrPos,ticktext:chrLabels,tickangle:-90,tickfont:{size:37,family:FONT,color:'#000'},ticklabelstandoff:1},
 yaxis2:{domain:[fy(945),fy(926.3)],range:[0,1],anchor:'x2',visible:false,fixedrange:true},
 shapes,annotations};
Plotly.newPlot('c',traces,layout,{displayModeBar:false,staticPlot:true});
</script></body></html>
